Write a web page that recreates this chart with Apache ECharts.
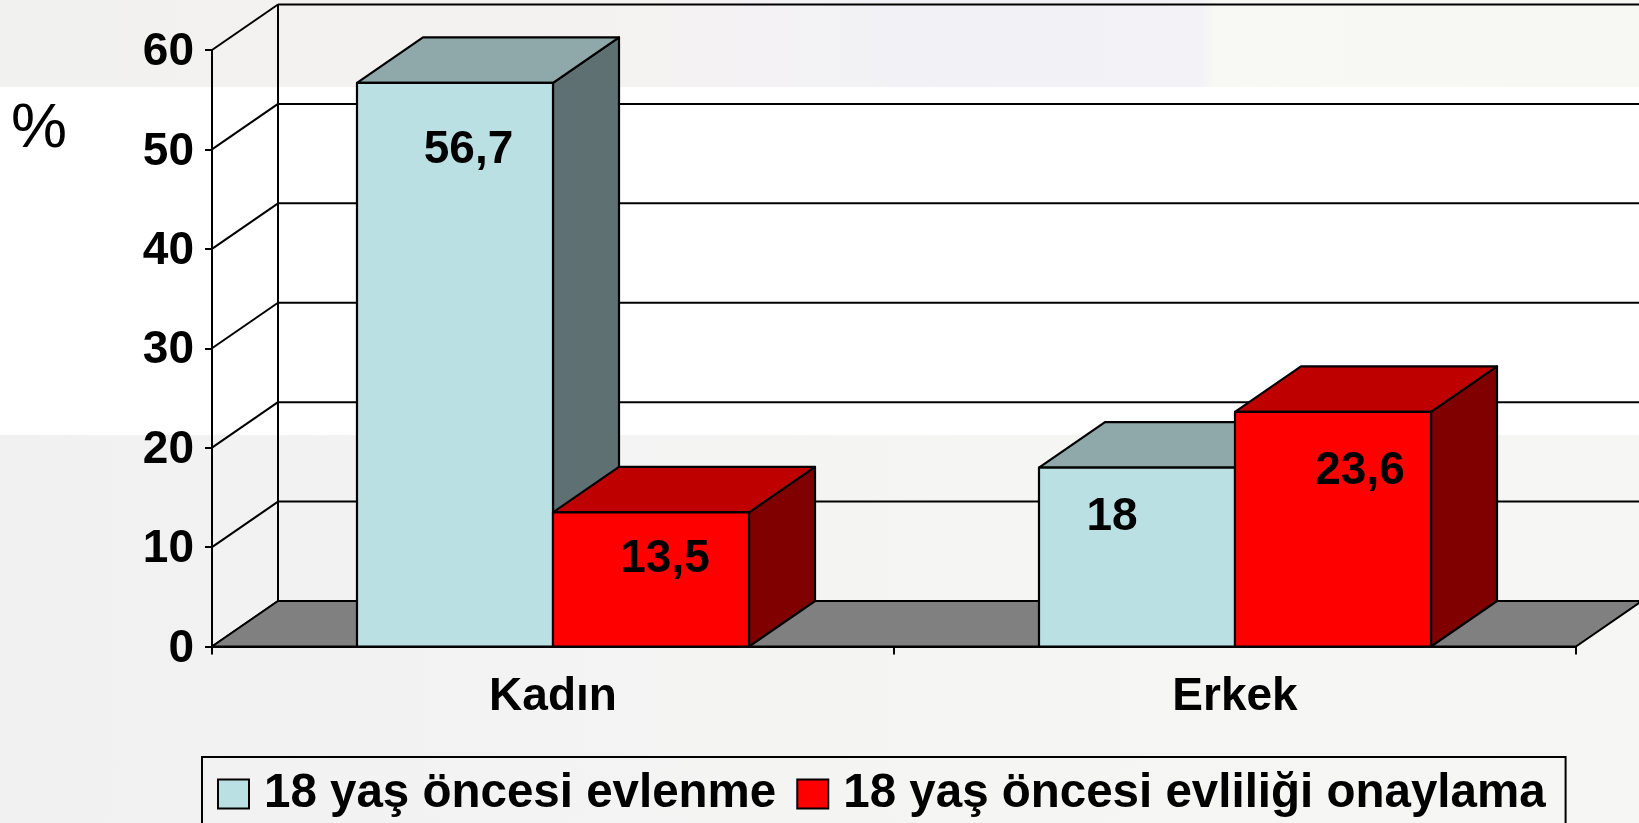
<!DOCTYPE html>
<html>
<head>
<meta charset="utf-8">
<style>
html,body{margin:0;padding:0;width:1639px;height:823px;overflow:hidden;background-color:#f4f4f3;}
#top{position:absolute;left:0;top:0;width:1639px;height:87px;
background:linear-gradient(to right,#f1f1f0 0,#f3f2f0 400px,#f5f2f2 650px,#f2f2f6 900px,#f3f3f7 1200px,#f8f8f5 1215px,#f7f7f4 1639px);}
#mid{position:absolute;left:0;top:87px;width:1639px;height:348px;background:#fff;}
#bot{position:absolute;left:0;top:435px;width:1639px;height:388px;
background:linear-gradient(to right,#f1f1f1 0,#f3f3f3 500px,#f5f5f4 1000px,#f6f6f4 1639px);}
#c{position:absolute;left:0;top:0;width:1639px;height:823px;}
</style>
<script src="https://cdn.jsdelivr.net/npm/echarts@6/dist/echarts.min.js"></script>
</head>
<body>
<div id="top"></div><div id="mid"></div><div id="bot"></div>
<div id="c"></div>
<script>
const categories = ['Kadın', 'Erkek'];
const seriesNames = ['18 yaş öncesi evlenme', '18 yaş öncesi evliliği onaylama'];
const earlyMarriage = [56.7, 18];
const earlyMarriageApproval = [13.5, 23.6];
const valueTicks = [0, 10, 20, 30, 40, 50, 60];
const axisMax = 60;

// Layout and style only
const DX = 66, DY = 45.5, BAR_RATIO = 0.2874;
const FONT = '"Liberation Sans", Arial, sans-serif';
const blueFaces = { front: '#BAE0E3', top: '#8FA8AA', side: '#5F7072' };
const redFaces = { front: '#FF0000', top: '#BF0000', side: '#800000' };
const blueLabelShift = [[13.5, 65], [-25, 47]];
const redLabelShift = [[14, 44], [27, 56]];

function poly(points, fill, w) {
  return { type: 'polygon', shape: { points }, style: { fill, stroke: '#000', lineWidth: w, lineJoin: 'round' } };
}
function line(x1, y1, x2, y2) {
  return { type: 'line', shape: { x1, y1, x2, y2 }, style: { stroke: '#000', lineWidth: 2 } };
}
function wallItem(params, api) {
  const p = api.coord([0, api.value(0)]);
  const catW = api.size([1, 0])[0];
  const x0 = p[0] - catW / 2, y = p[1];
  const right = x0 + catW * categories.length;
  const children = [
    line(x0, y, x0 + DX, y - DY),
    line(x0 + DX, y - DY, right + DX, y - DY)
  ];
  if (api.value(0) === axisMax) {
    const base = api.coord([0, 0])[1];
    children.push(line(x0 + DX, y - DY, x0 + DX, base - DY));
  }
  return { type: 'group', children };
}
function floorItem(params, api) {
  const p = api.coord([0, 0]);
  const catW = api.size([1, 0])[0];
  const x0 = p[0] - catW / 2, y = p[1];
  const right = x0 + catW * categories.length;
  return poly([[x0, y], [x0 + DX, y - DY], [right + DX, y - DY], [right, y]], '#808080', 2);
}
function barRenderer(side, faces, shifts) {
  return function (params, api) {
    const idx = api.value(0), val = api.value(1);
    const top = api.coord([idx, val]), base = api.coord([idx, 0]);
    const w = api.size([1, 0])[0] * BAR_RATIO;
    const xl = side < 0 ? top[0] - w : top[0];
    const xr = xl + w, yt = top[1], yb = base[1];
    const s = shifts[params.dataIndex];
    return {
      type: 'group',
      children: [
        poly([[xr, yt], [xr + DX, yt - DY], [xr + DX, yb - DY], [xr, yb]], faces.side, 2.2),
        poly([[xl, yt], [xl + DX, yt - DY], [xr + DX, yt - DY], [xr, yt]], faces.top, 2.2),
        poly([[xl, yt], [xr, yt], [xr, yb], [xl, yb]], faces.front, 2.2),
        {
          type: 'text',
          style: {
            x: (xl + xr) / 2 + s[0], y: yt + s[1] + 3,
            text: String(val).replace('.', ','),
            fill: '#000', font: 'bold 46px ' + FONT,
            textAlign: 'center', textVerticalAlign: 'middle'
          }
        }
      ]
    };
  };
}

const chart = echarts.init(document.getElementById('c'), null, { renderer: 'canvas' });
chart.setOption({
  animation: false,
  backgroundColor: 'transparent',
  title: {
    text: '%', left: 6, top: 93,
    textStyle: { fontFamily: FONT, fontSize: 63, fontWeight: 'normal', color: '#000' }
  },
  grid: { left: 212, right: 63, top: 50, bottom: 176.5, containLabel: false },
  xAxis: {
    type: 'category', data: categories, boundaryGap: true,
    axisLine: { show: true, lineStyle: { color: '#000', width: 2.2 } },
    axisTick: { show: true, length: 8, alignWithLabel: false, lineStyle: { color: '#000', width: 2 } },
    axisLabel: { margin: 28, color: '#000', fontFamily: FONT, fontWeight: 'bold', fontSize: 46 },
    splitLine: { show: false }
  },
  yAxis: {
    type: 'value', min: 0, max: axisMax, interval: 10,
    axisLine: { show: true, lineStyle: { color: '#000', width: 2 } },
    axisTick: { show: true, length: 7, lineStyle: { color: '#000', width: 2 } },
    axisLabel: { margin: 18, color: '#000', fontFamily: FONT, fontWeight: 'bold', fontSize: 46, verticalAlign: 'top', lineHeight: 5 },
    splitLine: { show: false }
  },
  legend: {
    left: 202, top: 757,
    data: seriesNames.map(name => ({ name, icon: 'rect' })),
    orient: 'horizontal',
    itemWidth: 31, itemHeight: 29, itemGap: 20,
    padding: [13, 20, 13, 15],
    borderColor: '#000', borderWidth: 2,
    backgroundColor: 'transparent',
    selectedMode: false,
    textStyle: { fontFamily: FONT, fontWeight: 'bold', fontSize: 47.5, color: '#000', padding: [0, 0, 0, 10] }
  },
  series: [
    {
      type: 'custom', name: 'walls', silent: true, z: 1, clip: false,
      data: valueTicks.map(v => [v]), renderItem: wallItem, encode: { y: 0 },
      coordinateSystem: 'cartesian2d', tooltip: { show: false }
    },
    {
      type: 'custom', name: 'floor', silent: true, z: 2, clip: false,
      data: [[0]], renderItem: floorItem, encode: { y: 0 },
      coordinateSystem: 'cartesian2d', tooltip: { show: false }
    },
    {
      type: 'custom', name: seriesNames[0], silent: true, z: 3, clip: false,
      data: earlyMarriage.map((v, i) => [i, v]),
      encode: { x: 0, y: 1 },
      itemStyle: { color: blueFaces.front, borderColor: '#000', borderWidth: 2 },
      renderItem: barRenderer(-1, blueFaces, blueLabelShift)
    },
    {
      type: 'custom', name: seriesNames[1], silent: true, z: 4, clip: false,
      data: earlyMarriageApproval.map((v, i) => [i, v]),
      encode: { x: 0, y: 1 },
      itemStyle: { color: redFaces.front, borderColor: '#000', borderWidth: 2 },
      renderItem: barRenderer(1, redFaces, redLabelShift)
    }
  ]
});
</script>
</body>
</html>
